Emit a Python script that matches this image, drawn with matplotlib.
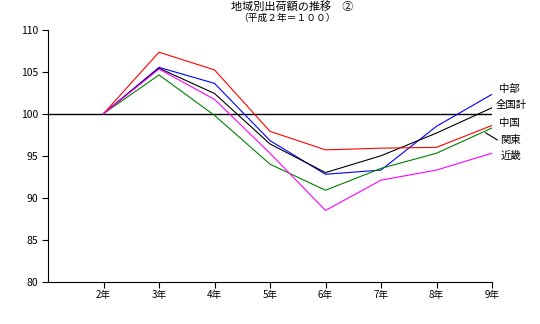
import matplotlib
matplotlib.use("Agg")
import matplotlib.pyplot as plt

plt.rcParams["font.family"] = ["Noto Sans CJK JP", "DejaVu Sans"]

years = ["2年", "3年", "4年", "5年", "6年", "7年", "8年", "9年"]
chubu = [100, 105.5, 103.6, 96.8, 92.8, 93.3, 98.5, 102.3]
zenkoku = [100, 105.4, 102.4, 96.4, 93.0, 95.0, 97.7, 100.7]
chugoku = [100, 107.3, 105.2, 97.9, 95.7, 95.9, 96.0, 98.6]
kanto = [100, 104.6, 99.8, 94.0, 90.9, 93.5, 95.3, 98.3]
kinki = [100, 105.3, 101.7, 95.3, 88.5, 92.1, 93.3, 95.3]

series = [
    ("中部", chubu, "#0000ff"),
    ("全国計", zenkoku, "#000000"),
    ("中国", chugoku, "#ff0000"),
    ("関東", kanto, "#008000"),
    ("近畿", kinki, "#ff00ff"),
]

fig = plt.figure(figsize=(5.4, 3.24), dpi=100)
ax = fig.add_axes([48 / 540, 1 - 282 / 324, 444 / 540, 252.5 / 324])

x = list(range(2, 2 + len(years)))
ax.axhline(100, color="black", lw=1.0, zorder=1)
for name, vals, color in series:
    ax.plot(x, vals, color=color, lw=0.8, zorder=2)

ax.set_xlim(1, 9)
ax.set_ylim(80, 110)
ax.set_xticks(x)
ax.set_xticklabels(years, fontsize=7)
ax.set_yticks(range(80, 111, 5))
ax.tick_params(axis="y", labelsize=7.5, length=4, width=0.8, pad=3)
ax.tick_params(axis="x", length=4, width=0.8, pad=2)
for side in ("top", "right"):
    ax.spines[side].set_visible(False)
for side in ("left", "bottom"):
    ax.spines[side].set_linewidth(0.8)

# series labels at the right end
label_y = {"中部": 102.9, "全国計": 101.0, "中国": 98.9, "関東": 96.9, "近畿": 95.0}
label_x = {"中部": 9.13, "全国計": 9.06, "中国": 9.13, "関東": 9.15, "近畿": 9.15}
for name, _, _ in series:
    ax.text(label_x[name], label_y[name], name, fontsize=7.5, va="center",
            ha="left", clip_on=False)
ax.annotate("", xy=(8.84, 97.9), xytext=(9.14, 96.7),
            arrowprops=dict(arrowstyle="-", color="black", lw=0.8),
            annotation_clip=False)

fig.text(292 / 540, 1 - 6.5 / 324, "地域別出荷額の推移　②", ha="center", va="center",
         fontsize=8)
fig.text(287 / 540, 1 - 18 / 324, "（平成２年＝１００）", ha="center", va="center",
         fontsize=7)

fig.savefig("out.png", dpi=100)
